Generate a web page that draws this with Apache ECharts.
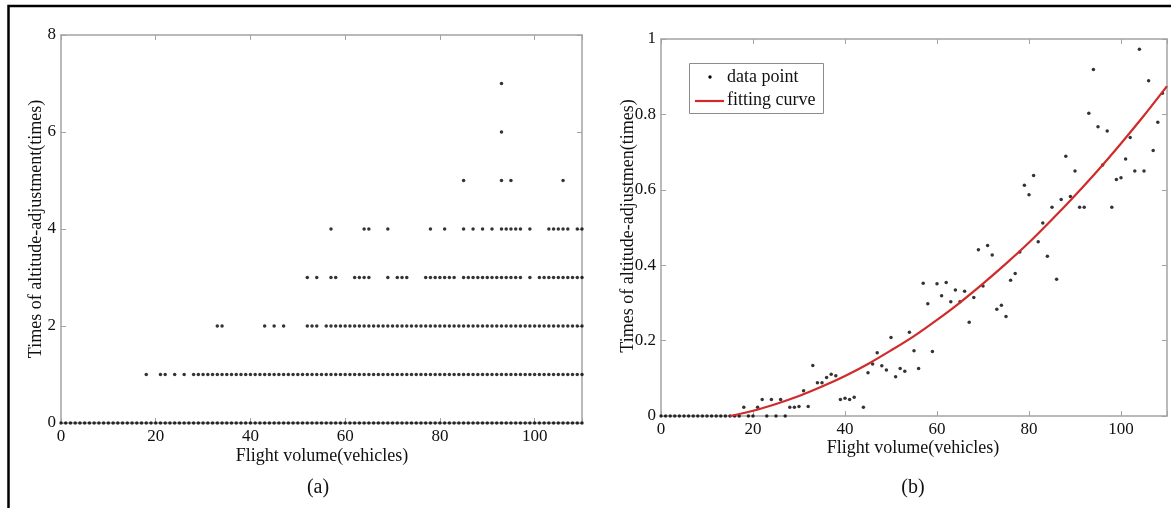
<!DOCTYPE html>
<html>
<head>
<meta charset="utf-8">
<script src="https://cdn.jsdelivr.net/npm/echarts@6/dist/echarts.min.js"></script>
<style>
  html, body { margin: 0; padding: 0; background: #fff; }
  #chart { width: 1171px; height: 508px; }
</style>
</head>
<body>
<div id="chart"></div>
<script>
// ---- (a) altitude adjustments per flight, by flight volume ----
// Each level lists runs of consecutive flight volumes [from, to] that have a point at that level.
const levelsA = [0, 1, 2, 3, 4, 5, 6, 7];
const runsA = [
  [[0, 110]],
  [[18, 18], [21, 22], [24, 24], [26, 26], [28, 110]],
  [[33, 34], [43, 43], [45, 45], [47, 47], [52, 54], [56, 110]],
  [[52, 52], [54, 54], [57, 58], [62, 65], [69, 69], [71, 73], [77, 83], [85, 97], [99, 99], [101, 110]],
  [[57, 57], [64, 65], [69, 69], [78, 78], [81, 81], [85, 85], [87, 87], [89, 89], [91, 91], [93, 97], [99, 99], [103, 107], [109, 110]],
  [[85, 85], [93, 93], [95, 95], [106, 106]],
  [[93, 93]],
  [[93, 93]]
];

// ---- (b) mean altitude adjustments and fitted curve ----
const volumeB = [
  0, 1, 2, 3, 4, 5, 6, 7, 8, 9, 10, 11, 12, 13, 14, 15, 16, 17,
  18, 19, 20, 21, 22, 23, 24, 25, 26, 27, 28, 29, 30, 31, 32, 33, 34, 35, 36, 37, 38, 39, 40, 41, 42,
  44, 45, 46, 47, 48, 49, 50, 51, 52, 53, 54, 55, 56, 57, 58, 59, 60, 61, 62, 63, 64, 65, 66, 67, 68, 69,
  70, 71, 72, 73, 74, 75, 76, 77, 78, 79, 80, 81, 82, 83, 84, 85, 86, 87, 88, 89, 90, 91, 92, 93, 94,
  95, 96, 97, 98, 99, 100, 101, 102, 103, 104, 105, 106, 107, 108, 109
];
const rateB = [
  0, 0, 0, 0, 0, 0, 0, 0, 0, 0, 0, 0, 0, 0, 0, 0, 0, 0,
  0.023, 0, 0, 0.023, 0.044, 0, 0.044, 0, 0.044, 0, 0.023, 0.023, 0.025, 0.067, 0.025, 0.134, 0.088, 0.088, 0.102, 0.111, 0.107, 0.044, 0.047, 0.044, 0.050,
  0.023, 0.115, 0.138, 0.168, 0.133, 0.122, 0.208, 0.104, 0.126, 0.119, 0.222, 0.173, 0.126, 0.352, 0.298, 0.171, 0.351, 0.319, 0.354, 0.303, 0.334, 0.303, 0.331, 0.249, 0.314, 0.441,
  0.345, 0.452, 0.427, 0.283, 0.294, 0.264, 0.360, 0.378, 0.435, 0.612, 0.587, 0.638, 0.462, 0.512, 0.424, 0.554, 0.363, 0.574, 0.689, 0.582, 0.650, 0.554, 0.554, 0.803, 0.919,
  0.767, 0.666, 0.756, 0.554, 0.627, 0.632, 0.682, 0.739, 0.650, 0.973, 0.650, 0.889, 0.704, 0.779, 0.856
];
const curveX = [15, 20, 25, 30, 35, 40, 45, 50, 55, 60, 65, 70, 75, 80, 85, 90, 95, 100, 105, 110];
const curveY = [0, 0.014, 0.032, 0.053, 0.078, 0.106, 0.138, 0.174, 0.212, 0.255, 0.301, 0.351, 0.404, 0.460, 0.521, 0.585, 0.652, 0.723, 0.797, 0.875];

// ---- tick labels ----
const xTicks = [0, 20, 40, 60, 80, 100];
const yTicksA = [0, 2, 4, 6, 8];
const yTicksB = [0, 0.2, 0.4, 0.6, 0.8, 1];

// ---- build point lists ----
const pointsA = [];
runsA.forEach((runs, i) => {
  runs.forEach(([from, to]) => {
    for (let v = from; v <= to; v++) pointsA.push([v, levelsA[i]]);
  });
});
const pointsB = volumeB.map((v, i) => [v, rateB[i]]);
const curveB = curveX.map((v, i) => [v, curveY[i]]);

const FONT = "'Liberation Serif', 'DejaVu Serif', serif";
const AXIS_COLOR = '#a3a3a3';

function xAxisDef(grid, pos) {
  return {
    gridIndex: grid, type: 'value', position: pos, min: 0, max: 110, interval: 20,
    axisLine: { show: true, onZero: false, lineStyle: { color: AXIS_COLOR, width: 1.5 } },
    axisTick: { show: true, inside: true, length: 5, lineStyle: { color: AXIS_COLOR, width: 1 } },
    axisLabel: {
      show: pos === 'bottom', margin: 5, fontFamily: FONT, fontSize: 17, color: '#111',
      formatter: v => (xTicks.indexOf(v) >= 0 ? String(v) : '')
    },
    splitLine: { show: false }
  };
}
function yAxisDef(grid, pos, max, interval, ticks) {
  return {
    gridIndex: grid, type: 'value', position: pos, min: 0, max: max, interval: interval,
    axisLine: { show: true, onZero: false, lineStyle: { color: AXIS_COLOR, width: 1.5 } },
    axisTick: { show: true, inside: true, length: 5, lineStyle: { color: AXIS_COLOR, width: 1 } },
    axisLabel: {
      show: pos === 'left', margin: 5, fontFamily: FONT, fontSize: 17, color: '#111',
      formatter: v => {
        const t = ticks.find(k => Math.abs(k - v) < 1e-9);
        return t === undefined ? '' : String(t);
      }
    },
    splitLine: { show: false }
  };
}

const chart = echarts.init(document.getElementById('chart'), null, { renderer: 'canvas' });
chart.setOption({
  animation: false,
  backgroundColor: '#fff',
  grid: [
    { left: 61, top: 35, width: 521, height: 388 },
    { left: 661, top: 39, width: 506, height: 377 }
  ],
  xAxis: [
    xAxisDef(0, 'bottom'), xAxisDef(0, 'top'),
    xAxisDef(1, 'bottom'), xAxisDef(1, 'top')
  ],
  yAxis: [
    yAxisDef(0, 'left', 8, 2, yTicksA), yAxisDef(0, 'right', 8, 2, yTicksA),
    yAxisDef(1, 'left', 1, 0.2, yTicksB), yAxisDef(1, 'right', 1, 0.2, yTicksB)
  ],
  series: [
    {
      name: 'adjustments', type: 'scatter', xAxisIndex: 0, yAxisIndex: 0, clip: false,
      symbol: 'circle', symbolSize: 3.5, itemStyle: { color: '#000' }, data: pointsA
    },
    {
      name: 'data point', type: 'scatter', xAxisIndex: 2, yAxisIndex: 2, clip: false,
      symbol: 'circle', symbolSize: 3.5, itemStyle: { color: '#000' }, data: pointsB
    },
    {
      name: 'fitting curve', type: 'line', xAxisIndex: 2, yAxisIndex: 2,
      smooth: 0.3, symbol: 'none',
      lineStyle: { color: '#d12a2a', width: 2.2 }, data: curveB, z: 3
    }
  ],
  graphic: [
    // outer frame
    {
      type: 'polyline', silent: true,
      shape: { points: [[8.5, 508], [8.5, 6], [1171, 6]] },
      style: { stroke: '#000', lineWidth: 2.5, fill: null }
    },
    // axis titles and panel captions
    {
      type: 'text', x: 36, y: 229, rotation: Math.PI / 2,
      style: { text: 'Times of altitude-adjustment(times)', font: '18px ' + FONT, fill: '#111', textAlign: 'center', textVerticalAlign: 'middle' }
    },
    {
      type: 'text', x: 322, y: 456,
      style: { text: 'Flight volume(vehicles)', font: '18px ' + FONT, fill: '#111', textAlign: 'center', textVerticalAlign: 'middle' }
    },
    {
      type: 'text', x: 318, y: 488,
      style: { text: '(a)', font: '20px ' + FONT, fill: '#111', textAlign: 'center', textVerticalAlign: 'middle' }
    },
    {
      type: 'text', x: 628, y: 226, rotation: Math.PI / 2,
      style: { text: 'Times of altitude-adjustmen(times)', font: '18px ' + FONT, fill: '#111', textAlign: 'center', textVerticalAlign: 'middle' }
    },
    {
      type: 'text', x: 913, y: 448,
      style: { text: 'Flight volume(vehicles)', font: '18px ' + FONT, fill: '#111', textAlign: 'center', textVerticalAlign: 'middle' }
    },
    {
      type: 'text', x: 913, y: 488,
      style: { text: '(b)', font: '20px ' + FONT, fill: '#111', textAlign: 'center', textVerticalAlign: 'middle' }
    },
    // legend of panel (b)
    {
      type: 'rect', shape: { x: 689.5, y: 63.5, width: 134, height: 50 },
      style: { fill: '#fff', stroke: '#8c8c8c', lineWidth: 1 }, z: 10
    },
    {
      type: 'circle', shape: { cx: 710, cy: 77, r: 1.7 }, style: { fill: '#000' }, z: 11
    },
    {
      type: 'text', x: 727, y: 77, z: 11,
      style: { text: 'data point', font: '18px ' + FONT, fill: '#111', textVerticalAlign: 'middle' }
    },
    {
      type: 'line', shape: { x1: 695, y1: 101, x2: 724, y2: 101 },
      style: { stroke: '#d12a2a', lineWidth: 2.2 }, z: 11
    },
    {
      type: 'text', x: 727, y: 100, z: 11,
      style: { text: 'fitting curve', font: '18px ' + FONT, fill: '#111', textVerticalAlign: 'middle' }
    }
  ]
});
</script>
</body>
</html>
